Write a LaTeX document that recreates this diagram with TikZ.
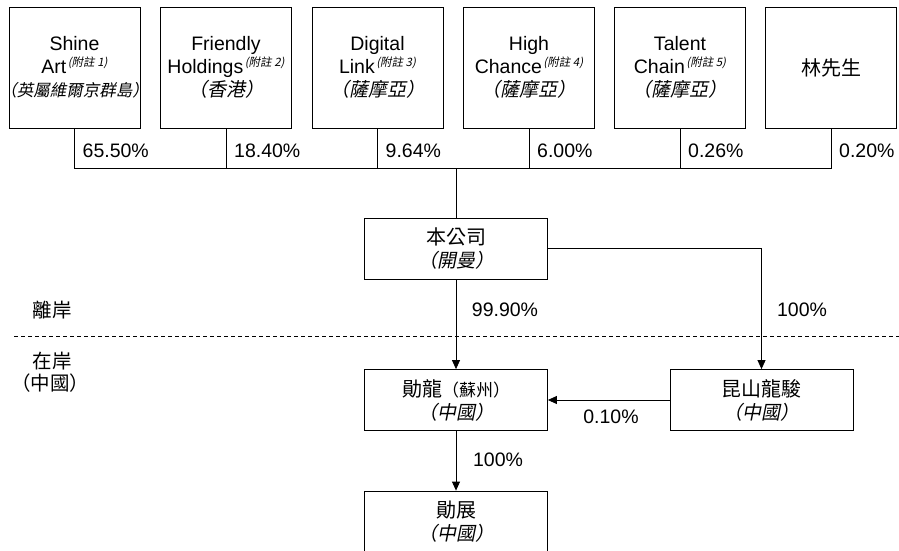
\documentclass[tikz,border=0pt]{standalone}
\usepackage{fontspec}
\setmainfont{Liberation Sans}
\newfontfamily\cjk{Noto Sans CJK TC}
\newfontfamily\cjkit{Noto Sans CJK TC}[FakeSlant=0.2]
\usetikzlibrary{arrows.meta}
\newcommand\fnote[1]{\hspace{1.5pt}\raisebox{7pt}{\cjkit\fontsize{11.5}{12}\selectfont (附註 #1)}}
\newcommand\seat[2][19]{\makebox[0pt][c]{\cjkit\fontsize{#1}{23}\selectfont （#2）}}

\begin{document}
\begin{tikzpicture}[x=1pt, y=-1pt,
	holder/.style={draw, line width=0.8pt, minimum width=131pt, minimum height=121pt, align=center, inner sep=0pt, font=\fontsize{19.5}{23}\selectfont},
	entity/.style={draw, line width=0.8pt, minimum width=183pt, minimum height=61pt, align=center, inner sep=0pt, font=\fontsize{20}{23}\selectfont\cjk},
	pct/.style={font=\fontsize{19.5}{23}\selectfont, inner sep=2pt},
	side/.style={font=\fontsize{19.5}{23}\selectfont\cjk, inner sep=0pt},
	link/.style={line width=0.8pt},
	own/.style={line width=0.8pt, -{Triangle[length=9pt,width=8pt]}}]
	\useasboundingbox (0,0) rectangle (899,551);
	% shareholders
	\node [holder] (sa) at (74.5,67.5) {Shine\\Art\fnote{1}\\\seat[16.5]{英屬維爾京群島}};
	\node [holder] (fh) at (226,67.5) {Friendly\\Holdings\fnote{2}\\\seat{香港}};
	\node [holder] (dl) at (377.5,67.5) {Digital\\Link\fnote{3}\\\seat{薩摩亞}};
	\node [holder] (hc) at (529,67.5) {High\\Chance\fnote{4}\\\seat{薩摩亞}};
	\node [holder] (tc) at (680,67.5) {Talent\\Chain\fnote{5}\\\seat{薩摩亞}};
	\node [holder] (ml) at (831,67.5) {\cjk\fontsize{20}{23}\selectfont 林先生};
	\node [pct, anchor=west] (psa) at ([xshift=6pt, yshift=-22pt]sa.south) {65.50\%};
	\node [pct, anchor=west] (pfh) at ([xshift=6pt, yshift=-22pt]fh.south) {18.40\%};
	\node [pct, anchor=west] (pdl) at ([xshift=6pt, yshift=-22pt]dl.south) {9.64\%};
	\node [pct, anchor=west] (phc) at ([xshift=6pt, yshift=-22pt]hc.south) {6.00\%};
	\node [pct, anchor=west] (ptc) at ([xshift=6pt, yshift=-22pt]tc.south) {0.26\%};
	\node [pct, anchor=west] (pml) at ([xshift=6pt, yshift=-22pt]ml.south) {0.20\%};
	\coordinate (bus) at (456,168);
	\draw [link] (sa.south) -- (sa.south |- bus) -- (ml.south |- bus) -- (ml.south);
	\foreach \n in {fh,dl,hc,tc}
		\draw [link] (\n.south) -- (\n.south |- bus);
	% group
	\node [entity] (co) at (456,248.5) {本公司\\\seat{開曼}};
	\node [entity] (xl) at (456,400) {勛龍{\fontsize{17}{23}\selectfont（蘇州）}\\\seat{中國}};
	\node [entity] (kl) at (761.5,400) {昆山龍駿\\\seat{中國}};
	\node [entity] (xz) at (456,521.5) {勛展\\\seat{中國}};
	\draw [link] (bus) -- (co.north);
	\draw [own] (co) -- (xl);
	\draw [own] (co.east) -| (kl.north);
	\draw [own] (kl.west) -- (xl.east);
	\draw [own] (xl) -- (xz);
	\node [pct] (pxl) at (505,310) {99.90\%};
	\node [pct] (pkl) at (802,310) {100\%};
	\node [pct] (pkx) at (611,417) {0.10\%};
	\node [pct] (pxz) at (498,460) {100\%};
	% offshore / onshore
	\coordinate (shoreW) at (14,336);
	\coordinate (shoreE) at (899,336);
	\draw [link, dash pattern=on 4pt off 3pt] (shoreW) -- (shoreE);
	\node [side] (off) at (52,310) {離岸};
	\node [side] (on) at (52,361) {在岸};
	\node [side] (onc) at (50,383) {（中國）};
\end{tikzpicture}
\end{document}
